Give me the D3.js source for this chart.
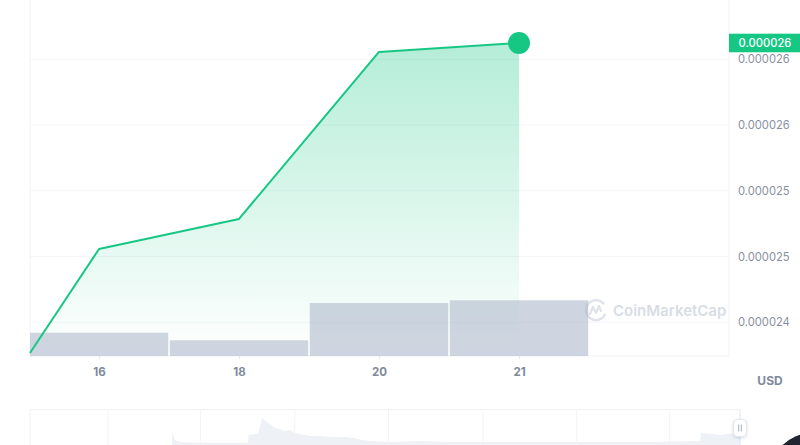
<!DOCTYPE html>
<html>
<head>
<meta charset="utf-8">
<script src="https://cdn.jsdelivr.net/npm/d3@7"></script>
<style>
  body { margin: 0; background: #fff; font-family: Inter, "Noto Sans", sans-serif; }
  svg { display: block; }
</style>
</head>
<body>
<svg width="800" height="445"></svg>
<script>
// data (prices in 1e-6 USD, volume in arbitrary units)
const days = ['16', '18', '20', '21'];
const volumes = [2.33, 1.57, 5.3, 5.57];
const priceSlots = [-0.493, 0, 1, 2, 3];
const prices = [24.167, 24.957, 25.186, 26.456, 26.524];
const yTicks = [24.4, 24.9, 25.4, 25.9, 26.4];
const yTickLabels = ['0.000024', '0.000025', '0.000025', '0.000026', '0.000026'];
const lastLabel = '0.000026';

// navigator mini series
const navT = [20, 20.07, 20.4, 21.1, 23.9, 30.7, 30.8, 32.1, 32.7, 33.2, 33.8, 34.5, 35.2, 35.9, 36.6, 37.3,
  38, 39.4, 40.8, 42.3, 44.4, 45.8, 46.8, 47.9, 50.7, 54.9, 59.2, 66.2, 73.2, 80.3, 87.3, 94.4, 94.5,
  95.8, 97.2, 98.6, 100];
const navV = [0, 3.6, 1.4, 0.8, 0.6, 0.6, 2.8, 3.1, 7.5, 6.7, 5.8, 4.7, 4.4, 3.9, 4.2, 3.3,
  3.1, 2.5, 2.5, 2.2, 2.2, 1.9, 1.4, 1.1, 0.8, 1.1, 0.8, 0.8, 0.8, 0.8, 0.8, 1.1, 3.3,
  3.1, 2.8, 3.1, 3.1];
const navGrid = [11, 24, 37.3, 50.5, 63.8, 77, 90.1];

const green = '#16c784';
const svg = d3.select('svg');
const left = 30, right = 729, bottom = 356;

const x = d3.scaleLinear().domain([-0.5, 4.5]).range([29, 729]);
const y = d3.scaleLinear().domain([24.4, 26.4]).range([322.3, 59.3]);
const yVol = d3.scaleLinear().domain([0, 10]).range([bottom, 256]);

const defs = svg.append('defs');
const grad = defs.append('linearGradient')
  .attr('id', 'areaGrad')
  .attr('gradientUnits', 'userSpaceOnUse')
  .attr('x1', 0).attr('x2', 0)
  .attr('y1', y(d3.max(prices))).attr('y2', bottom);
grad.append('stop').attr('offset', 0).attr('stop-color', green).attr('stop-opacity', 0.32);
grad.append('stop').attr('offset', 1).attr('stop-color', green).attr('stop-opacity', 0);

defs.append('clipPath').attr('id', 'plotClip')
  .append('rect').attr('x', left).attr('y', 0).attr('width', right - left).attr('height', bottom);

const shadow = defs.append('filter').attr('id', 'shadow').attr('x', '-50%').attr('y', '-50%')
  .attr('width', '200%').attr('height', '200%');
shadow.append('feDropShadow').attr('dx', 0).attr('dy', 1).attr('stdDeviation', 1.5)
  .attr('flood-color', '#58667e').attr('flood-opacity', 0.25);

// grid
svg.append('g').selectAll('line')
  .data(yTicks)
  .join('line')
  .attr('x1', left).attr('x2', right)
  .attr('y1', d => y(d)).attr('y2', d => y(d))
  .attr('stroke', '#f3f5f8');

svg.append('line').attr('x1', left).attr('x2', left).attr('y1', 0).attr('y2', bottom).attr('stroke', '#eff2f5');
svg.append('line').attr('x1', right).attr('x2', right).attr('y1', 0).attr('y2', bottom).attr('stroke', '#eff2f5');
svg.append('line').attr('x1', left).attr('x2', right).attr('y1', bottom).attr('y2', bottom).attr('stroke', '#eef1f5');

// watermark
const wm = svg.append('g').attr('transform', 'translate(596,310)').attr('fill', 'none');
wm.append('path')
  .attr('d', 'M7.5,-6.5 A10,10 0 1 0 9,4.5')
  .attr('stroke', '#dfe3ea').attr('stroke-width', 2.4).attr('stroke-linecap', 'round');
wm.append('path')
  .attr('d', 'M-6,4 L-3,-3 L0,3 L3,-4 L5,1')
  .attr('stroke', '#dfe3ea').attr('stroke-width', 2.2).attr('stroke-linejoin', 'round').attr('stroke-linecap', 'round');
svg.append('text')
  .attr('x', 613).attr('y', 310.5)
  .attr('dy', '0.35em')
  .attr('font-size', 15).attr('font-weight', 600)
  .attr('fill', '#d8dde5')
  .text('CoinMarketCap');

const pts = priceSlots.map((s, i) => ({ s, p: prices[i] }));
const plot = svg.append('g').attr('clip-path', 'url(#plotClip)');

plot.append('path')
  .datum(pts)
  .attr('fill', 'url(#areaGrad)')
  .attr('d', d3.area().x(d => x(d.s)).y0(bottom).y1(d => y(d.p)));

const slotW = x(1) - x(0);
plot.selectAll('rect.vol')
  .data(volumes)
  .join('rect')
  .attr('class', 'vol')
  .attr('x', (d, i) => x(i) - slotW / 2 + 0.8)
  .attr('width', slotW - 1.6)
  .attr('y', d => yVol(d))
  .attr('height', d => bottom - yVol(d))
  .attr('fill', '#a3aec3')
  .attr('fill-opacity', 0.52);

svg.append('path')
  .datum(pts)
  .attr('fill', 'none')
  .attr('stroke', green)
  .attr('stroke-width', 2)
  .attr('stroke-linejoin', 'round')
  .attr('d', d3.line().x(d => x(d.s)).y(d => y(d.p)));

const last = pts[pts.length - 1];
svg.append('circle')
  .attr('cx', x(last.s)).attr('cy', y(last.p)).attr('r', 11)
  .attr('fill', green);

// axes
const xAxis = d3.axisBottom(x)
  .tickValues(days.map((d, i) => i))
  .tickFormat(i => days[i])
  .tickSize(3)
  .tickPadding(9);
const xAxisG = svg.append('g').attr('transform', `translate(0,${bottom})`).call(xAxis);
xAxisG.select('.domain').remove();
xAxisG.selectAll('.tick line').attr('stroke', '#e6eaf0');
xAxisG.selectAll('.tick text')
  .attr('fill', '#808a9d').attr('font-size', 11.5).attr('font-weight', 700)
  .attr('font-family', 'Inter, sans-serif');

const yAxis = d3.axisRight(y)
  .tickValues(yTicks)
  .tickFormat((d, i) => yTickLabels[i])
  .tickSize(0)
  .tickPadding(9);
const yAxisG = svg.append('g').attr('transform', `translate(${right},0)`).call(yAxis);
yAxisG.select('.domain').remove();
yAxisG.selectAll('.tick text')
  .attr('fill', '#8990a2').attr('font-size', 11.2)
  .attr('font-family', 'Inter, sans-serif');

// current price tag
svg.append('rect')
  .attr('x', right).attr('y', y(last.p) - 9.3)
  .attr('width', 800 - right).attr('height', 18.6)
  .attr('fill', green);
svg.append('text')
  .attr('x', (right + 800) / 2 + 0.5).attr('y', y(last.p))
  .attr('dy', '0.35em')
  .attr('text-anchor', 'middle')
  .attr('fill', '#fff').attr('font-size', 11.2).attr('font-weight', 500)
  .text(lastLabel);

svg.append('text')
  .attr('x', 770).attr('y', 381)
  .attr('dy', '0.35em')
  .attr('text-anchor', 'middle')
  .attr('fill', '#808a9d').attr('font-size', 12).attr('font-weight', 700)
  .text('USD');

// navigator
const nx = d3.scaleLinear().domain([0, 100]).range([30, 740]);
const nv = d3.scaleLinear().domain([0, 10]).range([445, 409]);
const nav = svg.append('g');
nav.append('line').attr('x1', nx(0)).attr('x2', nx(100)).attr('y1', 409.5).attr('y2', 409.5).attr('stroke', '#eff2f5');
nav.append('line').attr('x1', nx(0)).attr('x2', nx(0)).attr('y1', 409.5).attr('y2', 445).attr('stroke', '#eff2f5');
nav.selectAll('line.g')
  .data(navGrid)
  .join('line')
  .attr('class', 'g')
  .attr('x1', d => nx(d)).attr('x2', d => nx(d))
  .attr('y1', 409.5).attr('y2', 445)
  .attr('stroke', '#f1f3f7');
nav.append('path')
  .datum(navT.map((t, i) => ({ t, v: navV[i] })))
  .attr('fill', '#eef1f5')
  .attr('d', d3.area().x(d => nx(d.t)).y0(445).y1(d => nv(d.v)));
nav.append('line').attr('x1', nx(100)).attr('x2', nx(100)).attr('y1', 409.5).attr('y2', 445).attr('stroke', '#dde6f6');

const handle = nav.append('g').attr('transform', `translate(${nx(100)},428)`);
handle.append('rect')
  .attr('x', -6.5).attr('y', -8.5).attr('width', 13).attr('height', 17).attr('rx', 4)
  .attr('fill', '#fff').attr('stroke', '#e3e7ee').attr('filter', 'url(#shadow)');
handle.selectAll('line')
  .data([-1.3, 1.3])
  .join('line')
  .attr('x1', d => d).attr('x2', d => d)
  .attr('y1', -3.5).attr('y2', 3.5)
  .attr('stroke', '#a6b0c3').attr('stroke-width', 1);

svg.append('circle').attr('cx', 812).attr('cy', 475).attr('r', 42).attr('fill', '#222531');
</script>
</body>
</html>
